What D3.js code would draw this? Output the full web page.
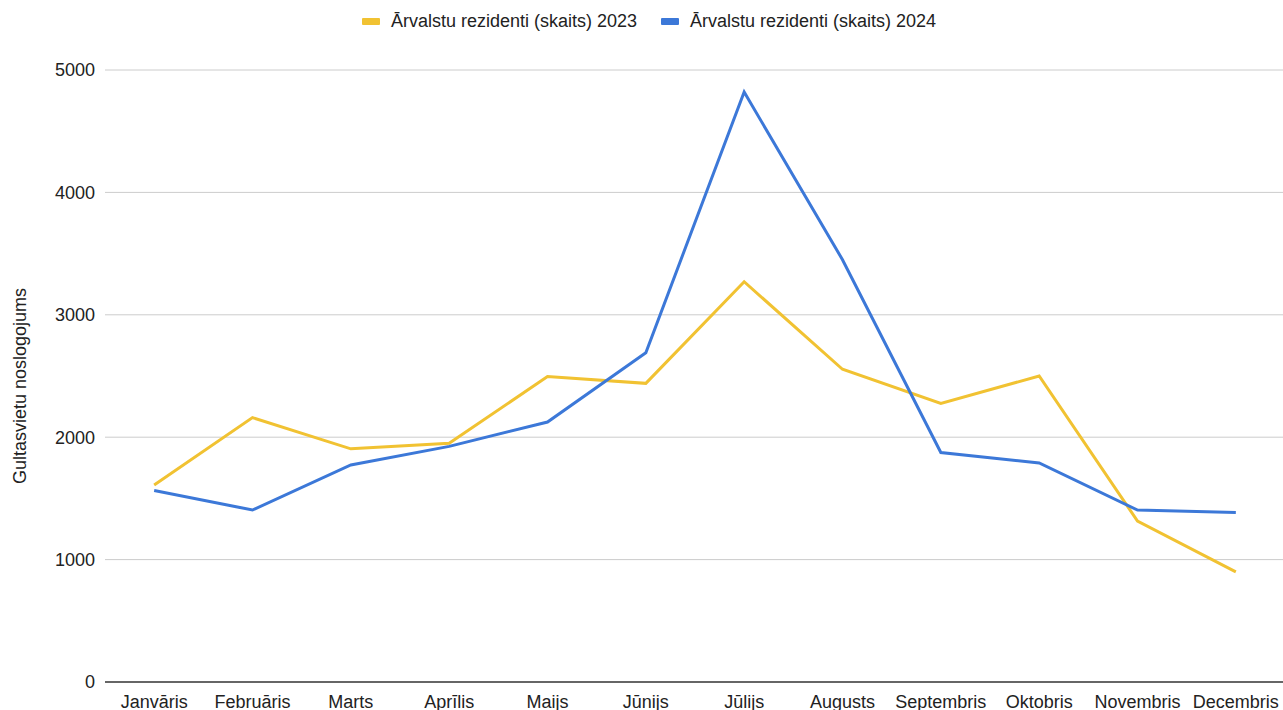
<!DOCTYPE html>
<html lang="lv">
<head>
<meta charset="UTF-8">
<title>Ārvalstu rezidenti</title>
<style>
  body { margin: 0; background: #fff; }
  svg text { font-family: "Liberation Sans", Arial, sans-serif; fill: #222; }
</style>
</head>
<body>
<svg id="svg" width="1283" height="710"></svg>
<script src="https://d3js.org/d3.v7.min.js"></script>
<script>
const months = ["Janvāris", "Februāris", "Marts", "Aprīlis", "Maijs", "Jūnijs", "Jūlijs", "Augusts", "Septembris", "Oktobris", "Novembris", "Decembris"]
const values2023 = [1610, 2160, 1905, 1950, 2495, 2440, 3270, 2555, 2275, 2500, 1315, 900]
const values2024 = [1565, 1405, 1773, 1925, 2124, 2690, 4820, 3450, 1875, 1790, 1405, 1385]
const yTicks = [0, 1000, 2000, 3000, 4000, 5000]
const seriesNames = ["Ārvalstu rezidenti (skaits) 2023", "Ārvalstu rezidenti (skaits) 2024"]
const colors = ["#f1c232", "#3c78d8"]

const svg = d3.select("svg#svg")
const plot = { left: 105, right: 1285, top: 70, bottom: 682 }
const fs = 18

const x = d3.scalePoint().domain(months).range([plot.left, plot.right]).padding(0.5)
const y = d3.scaleLinear().domain([0, 5000]).range([plot.bottom, plot.top])

// grid
svg.append("g").selectAll("line").data(yTicks.filter(d => d > 0)).join("line")
  .attr("x1", plot.left).attr("x2", 1283)
  .attr("y1", d => y(d)).attr("y2", d => y(d))
  .attr("stroke", "#cccccc").attr("stroke-width", 1)

// y labels
svg.append("g").selectAll("text").data(yTicks).join("text")
  .attr("x", 95).attr("y", d => y(d)).attr("dy", "0.35em")
  .attr("text-anchor", "end").attr("font-size", fs)
  .text(d => d)

// axis title
svg.append("text")
  .attr("transform", `translate(26,386) rotate(-90)`)
  .attr("text-anchor", "middle").attr("font-size", fs)
  .text("Gultasvietu noslogojums")

// x labels
svg.append("g").selectAll("text").data(months).join("text")
  .attr("x", d => x(d)).attr("y", 708)
  .attr("text-anchor", "middle").attr("font-size", fs)
  .text(d => d)

// lines
const line = d3.line().x((d, i) => x(months[i])).y(d => y(d))
;[values2023, values2024].forEach((vals, i) => {
  svg.append("path").datum(vals)
    .attr("d", line)
    .attr("fill", "none")
    .attr("stroke", colors[i])
    .attr("stroke-width", 3)
    .attr("stroke-linejoin", "miter")
})

// baseline
svg.append("line")
  .attr("x1", plot.left).attr("x2", 1283)
  .attr("y1", plot.bottom).attr("y2", plot.bottom)
  .attr("stroke", "#333").attr("stroke-width", 1.5)

// legend
const legendX = [362, 661]
seriesNames.forEach((name, i) => {
  const g = svg.append("g").attr("transform", `translate(${legendX[i]},21)`)
  g.append("rect").attr("x", 0).attr("y", -3).attr("width", 18).attr("height", 7)
    .attr("rx", 1).attr("fill", colors[i])
  g.append("text").attr("x", 29).attr("y", 0).attr("dy", "0.35em")
    .attr("font-size", fs).text(name)
})
</script>
</body>
</html>
